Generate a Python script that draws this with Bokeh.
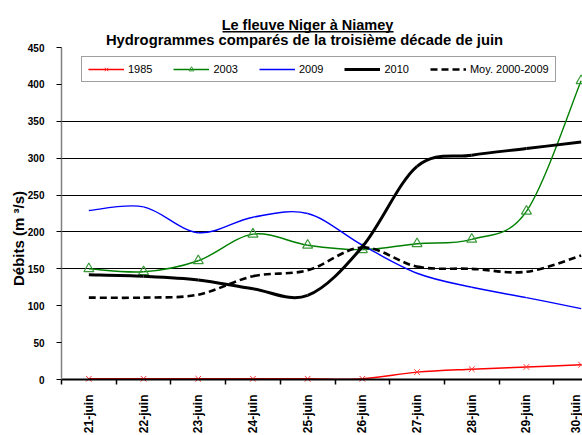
import math
from bokeh.plotting import figure
from bokeh.models import (Range1d, FixedTicker, Legend, LegendItem, Label,
                          BoxAnnotation, ColumnDataSource, LinearAxis, Grid)
from bokeh.embed import file_html
from bokeh.resources import INLINE

# ---- data ----
days = ["21-juin", "22-juin", "23-juin", "24-juin", "25-juin",
        "26-juin", "27-juin", "28-juin", "29-juin", "30-juin"]
q1985 = [1, 1, 1, 1, 1, 1, 10, 14, 17, 20]
q2003 = [150, 146, 161, 197, 182, 176, 184, 190, 228, 405]
q2009 = [229, 234, 199, 220, 225, 182, 144, 125, 111, 96]
q2010 = [142, 140, 135, 123, 114, 180, 289, 304, 313, 322]
qmoy = [111, 111, 115, 140, 148, 179, 153, 150, 146, 168]
y_ticks = [0, 50, 100, 150, 200, 250, 300, 350, 400, 450]
grid_values = [150, 200, 250, 300, 350]
y_min, y_max = 0, 450

title1 = "Le fleuve Niger à Niamey"
title2 = "Hydrogrammes comparés de la troisième décade de juin"
ylabel = "Débits (m ³/s)"
FONT = "Liberation Sans"

# ---- layout geometry (pixels) ----
W, H = 582, 435
PLOT_LEFT, PLOT_TOP, PLOT_BOTTOM = 61, 47, 379
CAT_W = 54.7
k = (PLOT_BOTTOM - PLOT_TOP) / (y_max - y_min)

xs = list(range(1, len(days) + 1))
x0 = 0.5
x_start = x0 - PLOT_LEFT / CAT_W
x_end = x0 + (W - PLOT_LEFT) / CAT_W
y_start = y_min - (H - PLOT_BOTTOM) / k
y_end = y_max + PLOT_TOP / k

p = figure(width=W, height=H, output_backend="svg", toolbar_location=None,
           x_range=Range1d(x_start, x_end), y_range=Range1d(y_start, y_end),
           x_axis_type=None, y_axis_type=None,
           min_border_left=0, min_border_right=0, min_border_top=0,
           min_border_bottom=0)
p.outline_line_color = None
p.background_fill_color = "white"
p.border_fill_color = "white"

# grid (only within the plot area)
p.add_layout(Grid(dimension=1, ticker=FixedTicker(ticks=grid_values),
                  cross_bounds=(x0, x_end + 1), grid_line_color="black",
                  grid_line_width=1))

# x axis
xaxis = LinearAxis(fixed_location=y_min, bounds=(x0, xs[-1] + 0.5))
xaxis.ticker = FixedTicker(ticks=xs, minor_ticks=[x - 0.5 for x in xs] + [xs[-1] + 0.5])
xaxis.major_label_overrides = {x: d for x, d in zip(xs, days)}
xaxis.major_label_orientation = math.pi / 2
xaxis.major_tick_line_color = None
xaxis.major_tick_out = 0
xaxis.major_tick_in = 0
xaxis.minor_tick_out = 5
xaxis.minor_tick_in = 0
xaxis.minor_tick_line_color = "black"
xaxis.minor_tick_line_width = 1.5
xaxis.axis_line_color = "black"
xaxis.axis_line_width = 2
xaxis.major_label_standoff = 10
xaxis.major_label_text_font = FONT
xaxis.major_label_text_font_style = "bold"
xaxis.major_label_text_font_size = "12px"
xaxis.major_label_text_color = "black"
p.add_layout(xaxis, "below")

# y axis
yaxis = LinearAxis(fixed_location=x0, bounds=(y_min, y_max))
yaxis.ticker = FixedTicker(ticks=y_ticks)
yaxis.minor_tick_line_color = None
yaxis.major_tick_out = 5
yaxis.major_tick_in = 0
yaxis.major_tick_line_color = "black"
yaxis.axis_line_color = "#808080"
yaxis.axis_line_width = 1.5
yaxis.major_label_standoff = 12
yaxis.major_label_text_font = FONT
yaxis.major_label_text_font_style = "bold"
yaxis.major_label_text_font_size = "10px"
yaxis.major_label_text_color = "black"
p.add_layout(yaxis, "left")


def bezier_source(xv, yv):
    n = len(xv)
    d = dict(x0=[], y0=[], x1=[], y1=[], cx0=[], cy0=[], cx1=[], cy1=[])
    for i in range(n - 1):
        a = i - 1 if i > 0 else i
        b = i + 2 if i + 2 < n else i + 1
        d["x0"].append(xv[i]); d["y0"].append(yv[i])
        d["x1"].append(xv[i + 1]); d["y1"].append(yv[i + 1])
        d["cx0"].append(xv[i] + (xv[i + 1] - xv[a]) / 6)
        d["cy0"].append(yv[i] + (yv[i + 1] - yv[a]) / 6)
        d["cx1"].append(xv[i + 1] - (xv[b] - xv[i]) / 6)
        d["cy1"].append(yv[i + 1] - (yv[b] - yv[i]) / 6)
    return ColumnDataSource(d)


series = [
    ("1985", q1985, "#ff0000", 1.5, None),
    ("2003", q2003, "#008000", 1.4, None),
    ("2009", q2009, "#0000ff", 1.4, None),
    ("2010", q2010, "black", 3, None),
    ("Moy. 2000-2009", qmoy, "black", 2.6, "7 4"),
]

items = []
for name, vals, color, lw, dash in series:
    kw = dict(line_color=color, line_width=lw)
    if dash:
        kw["line_dash"] = dash
    p.bezier(x0="x0", y0="y0", x1="x1", y1="y1", cx0="cx0", cy0="cy0",
             cx1="cx1", cy1="cy1", source=bezier_source(xs, vals), **kw)
    leg_line = p.line(xs, vals, visible=False, **kw)
    rends = [leg_line]
    if name == "1985":
        p.scatter(xs, vals, marker="x", size=8, line_color="#ff3333", line_width=1)
        rends.append(p.scatter(xs, vals, marker="x", size=5, line_color="#ff3333",
                               line_width=1, visible=False))
    if name == "2003":
        p.scatter(xs, vals, marker="triangle", size=10, fill_color=None,
                  line_color="#3a9a3a", line_width=1.2)
        rends.append(p.scatter(xs, vals, marker="triangle", size=5, fill_color=None,
                               line_color="#3a9a3a", line_width=1, visible=False))
    items.append(LegendItem(label=name, renderers=rends))

legend = Legend(items=items, orientation="horizontal", location=(81, H - 82),
                glyph_width=36, glyph_height=12, label_height=12,
                label_standoff=4, spacing=21, padding=6, margin=0,
                label_text_font=FONT, label_text_font_size="11px",
                label_text_color="black", inactive_fill_alpha=0,
                border_line_color="#404040", border_line_width=1,
                background_fill_color="white", background_fill_alpha=1)
p.add_layout(legend, "center")

# titles (screen units measured from the bottom-left of the canvas)
p.add_layout(Label(x=307, y=H - 24, x_units="screen", y_units="screen", text=title1,
                   text_align="center", text_baseline="alphabetic",
                   text_font=FONT, text_font_style="bold",
                   text_font_size="14.5px", text_color="black"))
p.add_layout(BoxAnnotation(left=222, right=393, bottom=H - 32, top=H - 30.5,
                           left_units="screen", right_units="screen",
                           top_units="screen", bottom_units="screen",
                           fill_color="black", fill_alpha=1, line_color=None))
p.add_layout(Label(x=304, y=H - 39, x_units="screen", y_units="screen", text=title2,
                   text_align="center", text_baseline="alphabetic",
                   text_font=FONT, text_font_style="bold",
                   text_font_size="14.8px", text_color="black"))
p.add_layout(Label(x=18, y=H - 238, x_units="screen", y_units="screen", text=ylabel,
                   angle=math.pi / 2, text_align="center", text_baseline="middle",
                   text_font=FONT, text_font_style="bold",
                   text_font_size="15px", text_color="black"))

open("out.html", "w").write(file_html(p, INLINE))
